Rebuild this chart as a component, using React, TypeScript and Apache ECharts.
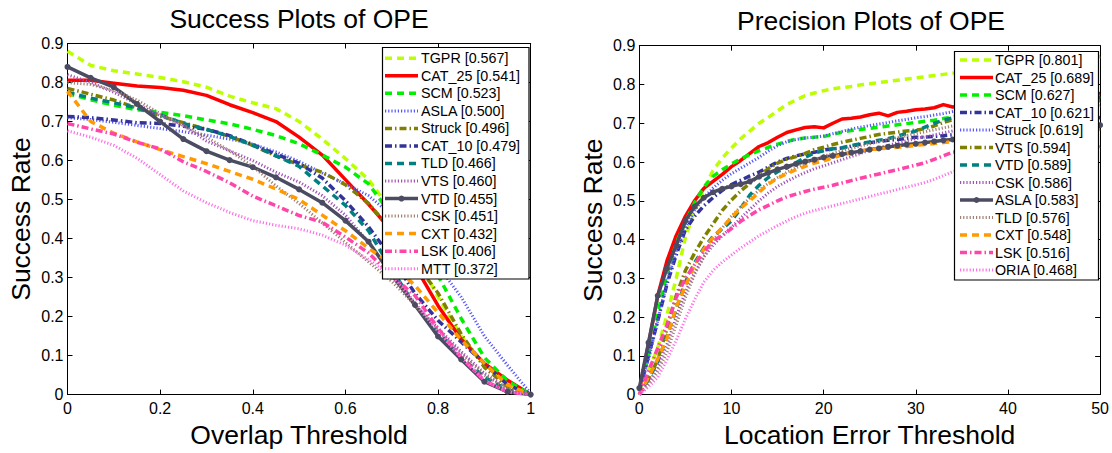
import React, { useEffect, useRef } from 'react';
import * as echarts from 'echarts';

const FONT = '"Liberation Sans", Arial, Helvetica, sans-serif';

// ---------- data ----------
const SUCCESS_X = [0, 0.05, 0.1, 0.15, 0.2, 0.25, 0.3, 0.35, 0.4, 0.45, 0.5, 0.55, 0.6, 0.65, 0.7, 0.75, 0.8, 0.85, 0.9, 0.95, 1];
const PRECISION_X = [0, 1, 2, 3, 4, 5, 6, 7, 8, 9, 10, 11, 12, 13, 14, 15, 16, 17, 18, 19, 20, 21, 22, 23, 24, 25, 26, 27, 28, 29, 30, 31, 32, 33, 34, 35, 36, 37, 38, 39, 40, 41, 42, 43, 44, 45, 46, 47, 48, 49, 50];

const SUCCESS_LABELS = ['TGPR [0.567]', 'CAT_25 [0.541]', 'SCM [0.523]', 'ASLA [0.500]', 'Struck [0.496]', 'CAT_10 [0.479]', 'TLD [0.466]', 'VTS [0.460]', 'VTD [0.455]', 'CSK [0.451]', 'CXT [0.432]', 'LSK [0.406]', 'MTT [0.372]'];
const PRECISION_LABELS = ['TGPR [0.801]', 'CAT_25 [0.689]', 'SCM [0.627]', 'CAT_10 [0.621]', 'Struck [0.619]', 'VTS [0.594]', 'VTD [0.589]', 'CSK [0.586]', 'ASLA [0.583]', 'TLD [0.576]', 'CXT [0.548]', 'LSK [0.516]', 'ORIA [0.468]'];

const S_TGPR = [0.88, 0.844, 0.83, 0.822, 0.813, 0.802, 0.788, 0.765, 0.748, 0.733, 0.7, 0.655, 0.605, 0.551, 0.47, 0.36, 0.25, 0.15, 0.075, 0.03, 0];
const S_CAT25 = [0.806, 0.806, 0.798, 0.791, 0.787, 0.78, 0.767, 0.743, 0.723, 0.7, 0.66, 0.614, 0.551, 0.488, 0.42, 0.33, 0.228, 0.142, 0.08, 0.037, 0];
const S_SCM = [0.772, 0.756, 0.742, 0.73, 0.724, 0.715, 0.704, 0.694, 0.68, 0.664, 0.643, 0.614, 0.583, 0.54, 0.46, 0.385, 0.305, 0.195, 0.095, 0.035, 0];
const S_ASLA = [0.71, 0.705, 0.698, 0.69, 0.682, 0.674, 0.665, 0.655, 0.642, 0.622, 0.598, 0.568, 0.54, 0.51, 0.46, 0.4, 0.33, 0.25, 0.15, 0.075, 0.003];
const S_STRUCK = [0.785, 0.77, 0.755, 0.735, 0.714, 0.697, 0.68, 0.662, 0.639, 0.612, 0.589, 0.57, 0.538, 0.49, 0.42, 0.34, 0.26, 0.155, 0.07, 0.02, 0];
const S_CAT10 = [0.713, 0.71, 0.704, 0.697, 0.695, 0.688, 0.68, 0.664, 0.641, 0.616, 0.593, 0.555, 0.497, 0.43, 0.35, 0.26, 0.19, 0.135, 0.08, 0.025, 0];
const S_TLD = [0.775, 0.76, 0.748, 0.735, 0.718, 0.695, 0.68, 0.662, 0.639, 0.612, 0.585, 0.535, 0.485, 0.42, 0.32, 0.23, 0.16, 0.095, 0.045, 0.012, 0];
const S_VTS = [0.82, 0.8, 0.775, 0.745, 0.715, 0.69, 0.65, 0.625, 0.6, 0.57, 0.545, 0.51, 0.46, 0.39, 0.31, 0.23, 0.17, 0.11, 0.055, 0.015, 0];
const S_VTD = [0.84, 0.812, 0.788, 0.745, 0.7, 0.655, 0.624, 0.601, 0.583, 0.557, 0.526, 0.492, 0.446, 0.392, 0.306, 0.23, 0.149, 0.09, 0.033, 0.007, 0];
const S_CSK = [0.8, 0.795, 0.78, 0.755, 0.72, 0.69, 0.66, 0.625, 0.585, 0.535, 0.49, 0.44, 0.39, 0.34, 0.29, 0.23, 0.165, 0.105, 0.05, 0.015, 0];
const S_CXT = [0.778, 0.7, 0.67, 0.648, 0.628, 0.61, 0.592, 0.572, 0.552, 0.527, 0.5, 0.46, 0.42, 0.375, 0.335, 0.28, 0.21, 0.14, 0.08, 0.025, 0];
const S_LSK = [0.695, 0.681, 0.668, 0.647, 0.63, 0.597, 0.572, 0.543, 0.509, 0.484, 0.459, 0.442, 0.404, 0.363, 0.304, 0.254, 0.17, 0.095, 0.036, 0.007, 0];
const S_MTT = [0.676, 0.66, 0.639, 0.606, 0.564, 0.522, 0.492, 0.467, 0.446, 0.434, 0.425, 0.409, 0.383, 0.346, 0.304, 0.237, 0.162, 0.095, 0.036, 0.007, 0];

const P_TGPR = [0.005, 0.06, 0.12, 0.205, 0.3, 0.405, 0.475, 0.53, 0.578, 0.61, 0.636, 0.66, 0.68, 0.7, 0.715, 0.732, 0.748, 0.76, 0.771, 0.778, 0.784, 0.789, 0.792, 0.795, 0.799, 0.802, 0.805, 0.808, 0.811, 0.814, 0.817, 0.82, 0.823, 0.826, 0.829, 0.832, 0.835, 0.838, 0.841, 0.843, 0.846, 0.848, 0.851, 0.853, 0.856, 0.858, 0.861, 0.863, 0.866, 0.869, 0.872];
const P_CAT25 = [0.01, 0.13, 0.255, 0.345, 0.41, 0.46, 0.5, 0.532, 0.55, 0.568, 0.588, 0.604, 0.622, 0.64, 0.65, 0.664, 0.676, 0.683, 0.689, 0.691, 0.688, 0.7, 0.711, 0.713, 0.716, 0.722, 0.726, 0.719, 0.728, 0.731, 0.735, 0.737, 0.74, 0.748, 0.742, 0.745, 0.747, 0.749, 0.751, 0.753, 0.755, 0.757, 0.76, 0.762, 0.764, 0.766, 0.768, 0.77, 0.772, 0.774, 0.777];
const P_SCM = [0.01, 0.1, 0.21, 0.31, 0.39, 0.445, 0.495, 0.535, 0.563, 0.58, 0.595, 0.608, 0.619, 0.629, 0.638, 0.646, 0.653, 0.659, 0.662, 0.664, 0.666, 0.671, 0.677, 0.681, 0.684, 0.687, 0.69, 0.693, 0.696, 0.699, 0.702, 0.705, 0.708, 0.712, 0.716, 0.72, 0.723, 0.726, 0.729, 0.732, 0.735, 0.738, 0.741, 0.744, 0.747, 0.75, 0.753, 0.757, 0.761, 0.765, 0.77];
const P_CAT10 = [0.01, 0.1, 0.19, 0.285, 0.36, 0.425, 0.46, 0.487, 0.508, 0.527, 0.542, 0.553, 0.564, 0.574, 0.587, 0.6, 0.609, 0.616, 0.621, 0.625, 0.631, 0.634, 0.636, 0.641, 0.646, 0.65, 0.653, 0.656, 0.658, 0.661, 0.664, 0.664, 0.666, 0.668, 0.67, 0.672, 0.674, 0.676, 0.678, 0.68, 0.682, 0.684, 0.686, 0.689, 0.692, 0.695, 0.698, 0.702, 0.706, 0.71, 0.715];
const P_STRUCK = [0.01, 0.09, 0.19, 0.29, 0.37, 0.43, 0.475, 0.508, 0.533, 0.553, 0.57, 0.584, 0.598, 0.612, 0.628, 0.642, 0.652, 0.658, 0.662, 0.664, 0.667, 0.673, 0.679, 0.685, 0.69, 0.694, 0.698, 0.702, 0.706, 0.71, 0.714, 0.717, 0.721, 0.725, 0.73, 0.733, 0.736, 0.739, 0.741, 0.743, 0.745, 0.747, 0.749, 0.751, 0.752, 0.753, 0.754, 0.755, 0.756, 0.757, 0.758];
const P_VTS = [0, 0.04, 0.09, 0.17, 0.255, 0.32, 0.365, 0.405, 0.44, 0.475, 0.502, 0.525, 0.545, 0.565, 0.583, 0.597, 0.607, 0.614, 0.622, 0.632, 0.638, 0.645, 0.651, 0.656, 0.661, 0.666, 0.671, 0.674, 0.677, 0.68, 0.682, 0.686, 0.693, 0.702, 0.709, 0.715, 0.72, 0.725, 0.73, 0.735, 0.74, 0.744, 0.748, 0.752, 0.756, 0.76, 0.765, 0.77, 0.775, 0.78, 0.786];
const P_VTD = [0, 0.04, 0.085, 0.15, 0.22, 0.29, 0.34, 0.378, 0.408, 0.428, 0.448, 0.48, 0.515, 0.54, 0.56, 0.575, 0.585, 0.598, 0.612, 0.623, 0.629, 0.634, 0.637, 0.642, 0.647, 0.652, 0.656, 0.66, 0.667, 0.673, 0.68, 0.69, 0.7, 0.708, 0.714, 0.718, 0.722, 0.726, 0.73, 0.733, 0.736, 0.739, 0.742, 0.745, 0.748, 0.751, 0.754, 0.757, 0.76, 0.763, 0.766];
const P_CSK = [0, 0.03, 0.07, 0.13, 0.2, 0.265, 0.315, 0.355, 0.385, 0.41, 0.432, 0.455, 0.478, 0.5, 0.52, 0.537, 0.55, 0.562, 0.573, 0.583, 0.59, 0.598, 0.606, 0.614, 0.622, 0.63, 0.637, 0.643, 0.649, 0.655, 0.66, 0.665, 0.67, 0.675, 0.68, 0.684, 0.688, 0.692, 0.696, 0.7, 0.704, 0.708, 0.712, 0.716, 0.72, 0.724, 0.728, 0.732, 0.736, 0.74, 0.745];
const P_ASLA = [0.017, 0.134, 0.255, 0.326, 0.385, 0.448, 0.485, 0.508, 0.522, 0.531, 0.537, 0.543, 0.55, 0.562, 0.572, 0.581, 0.588, 0.595, 0.601, 0.606, 0.612, 0.616, 0.62, 0.624, 0.628, 0.632, 0.635, 0.639, 0.642, 0.645, 0.647, 0.65, 0.653, 0.656, 0.658, 0.661, 0.663, 0.665, 0.667, 0.669, 0.671, 0.673, 0.675, 0.677, 0.679, 0.681, 0.683, 0.685, 0.688, 0.691, 0.695];
const P_TLD = [0, 0.025, 0.06, 0.11, 0.18, 0.25, 0.31, 0.355, 0.395, 0.43, 0.46, 0.485, 0.507, 0.527, 0.545, 0.56, 0.573, 0.585, 0.596, 0.606, 0.615, 0.622, 0.629, 0.635, 0.641, 0.647, 0.653, 0.658, 0.663, 0.668, 0.673, 0.678, 0.683, 0.688, 0.693, 0.697, 0.701, 0.705, 0.709, 0.713, 0.717, 0.721, 0.725, 0.729, 0.733, 0.737, 0.741, 0.745, 0.749, 0.753, 0.757];
const P_CXT = [0, 0.045, 0.092, 0.145, 0.225, 0.28, 0.335, 0.375, 0.405, 0.431, 0.457, 0.481, 0.5, 0.522, 0.543, 0.558, 0.57, 0.58, 0.589, 0.597, 0.603, 0.611, 0.618, 0.624, 0.629, 0.632, 0.634, 0.636, 0.638, 0.64, 0.643, 0.645, 0.648, 0.65, 0.653, 0.655, 0.657, 0.659, 0.661, 0.663, 0.665, 0.667, 0.669, 0.671, 0.673, 0.675, 0.677, 0.679, 0.681, 0.683, 0.685];
const P_LSK = [0, 0.06, 0.12, 0.18, 0.25, 0.3, 0.335, 0.368, 0.397, 0.41, 0.428, 0.447, 0.462, 0.477, 0.488, 0.5, 0.51, 0.517, 0.524, 0.53, 0.535, 0.54, 0.546, 0.552, 0.558, 0.564, 0.569, 0.575, 0.58, 0.586, 0.592, 0.598, 0.607, 0.616, 0.625, 0.628, 0.631, 0.634, 0.637, 0.64, 0.643, 0.646, 0.649, 0.652, 0.655, 0.658, 0.661, 0.664, 0.667, 0.67, 0.673];
const P_ORIA = [0, 0.02, 0.045, 0.09, 0.14, 0.195, 0.245, 0.29, 0.32, 0.342, 0.36, 0.378, 0.394, 0.41, 0.423, 0.436, 0.448, 0.459, 0.468, 0.475, 0.481, 0.487, 0.493, 0.499, 0.505, 0.511, 0.517, 0.523, 0.529, 0.535, 0.541, 0.547, 0.555, 0.565, 0.575, 0.58, 0.584, 0.588, 0.592, 0.596, 0.6, 0.604, 0.608, 0.612, 0.616, 0.62, 0.624, 0.628, 0.632, 0.636, 0.64];

const SUCCESS_VALUES = [S_TGPR, S_CAT25, S_SCM, S_ASLA, S_STRUCK, S_CAT10, S_TLD, S_VTS, S_VTD, S_CSK, S_CXT, S_LSK, S_MTT];
const PRECISION_VALUES = [P_TGPR, P_CAT25, P_SCM, P_CAT10, P_STRUCK, P_VTS, P_VTD, P_CSK, P_ASLA, P_TLD, P_CXT, P_LSK, P_ORIA];

// ---------- styles ----------
type Sty = { color: string; dash: number[] | 'solid'; width: number; marker?: boolean };
const DASH = [7, 5];
const DOT = [1.2, 2];
const DASHDOT = [7, 3, 1.5, 3];
const ST_YELLOW: Sty = { color: '#bbff00', dash: DASH, width: 3.5 };
const ST_RED: Sty = { color: '#ff0000', dash: 'solid', width: 3.5 };
const ST_GREEN: Sty = { color: '#00f000', dash: DASH, width: 3.5 };
const ST_BLUEDOT: Sty = { color: '#5555ff', dash: DOT, width: 3 };
const ST_OLIVE: Sty = { color: '#808000', dash: DASHDOT, width: 3.5 };
const ST_NAVY: Sty = { color: '#333399', dash: DASHDOT, width: 3.5 };
const ST_TEAL: Sty = { color: '#008080', dash: DASH, width: 3.5 };
const ST_PURPLE: Sty = { color: '#a050b8', dash: DOT, width: 3 };
const ST_GRAY: Sty = { color: '#4b4b62', dash: 'solid', width: 3.5, marker: true };
const ST_TAN: Sty = { color: '#a08070', dash: DOT, width: 3 };
const ST_ORANGE: Sty = { color: '#ff9a00', dash: DASH, width: 3.5 };
const ST_PINK: Sty = { color: '#ff44aa', dash: DASHDOT, width: 3.5 };
const ST_LPINK: Sty = { color: '#ff70e8', dash: DOT, width: 3 };

const SUCCESS_STYLES = [ST_YELLOW, ST_RED, ST_GREEN, ST_BLUEDOT, ST_OLIVE, ST_NAVY, ST_TEAL, ST_PURPLE, ST_GRAY, ST_TAN, ST_ORANGE, ST_PINK, ST_LPINK];
const PRECISION_STYLES = [ST_YELLOW, ST_RED, ST_GREEN, ST_NAVY, ST_BLUEDOT, ST_OLIVE, ST_TEAL, ST_PURPLE, ST_GRAY, ST_TAN, ST_ORANGE, ST_PINK, ST_LPINK];

function buildSeries(labels: string[], values: number[][], xs: number[], styles: Sty[], axisBase: number) {
  return labels.map((name, i) => {
    const s = styles[i];
    return {
      type: 'line',
      name,
      xAxisIndex: axisBase,
      yAxisIndex: axisBase,
      data: xs.map((x, j) => [x, values[i][j]]),
      symbol: s.marker ? 'circle' : 'none',
      symbolSize: 6,
      showSymbol: !!s.marker,
      showAllSymbol: true,
      itemStyle: { color: s.color },
      lineStyle: { color: s.color, width: s.width, type: s.dash, cap: 'butt', join: 'round' },
      silent: true,
      animation: false,
      clip: true,
      emphasis: { disabled: true },
    };
  });
}

type Box = { x: number; y: number; w: number; h: number; lineX: number; lineW: number; textX: number; rowY: number; pitch: number };

function buildLegend(labels: string[], styles: Sty[], b: Box) {
  const els: any[] = [
    {
      type: 'rect',
      z: 100,
      shape: { x: b.x, y: b.y, width: b.w, height: b.h },
      style: { fill: '#ffffff', stroke: '#000000', lineWidth: 1.2 },
      silent: true,
    },
  ];
  labels.forEach((label, i) => {
    const s = styles[i];
    const cy = b.rowY + i * b.pitch;
    els.push({
      type: 'line',
      z: 101,
      shape: { x1: b.lineX, y1: cy, x2: b.lineX + b.lineW, y2: cy },
      style: { stroke: s.color, lineWidth: s.width, lineDash: s.dash === 'solid' ? null : s.dash, lineCap: 'butt' },
      silent: true,
    });
    if (s.marker) {
      els.push({
        type: 'circle',
        z: 102,
        shape: { cx: b.lineX + b.lineW / 2, cy, r: 3 },
        style: { fill: s.color },
        silent: true,
      });
    }
    els.push({
      type: 'text',
      z: 102,
      x: b.textX,
      y: cy,
      style: { text: label, fontSize: 14.3, fontFamily: FONT, fill: '#000000', verticalAlign: 'middle', align: 'left' },
      silent: true,
    });
  });
  return els;
}

function axisPair(gridIndex: number, min: number, max: number, interval: number, isX: boolean, name: string, nameGap: number, labelMargin: number) {
  const common = {
    gridIndex,
    type: 'value',
    min,
    max,
    interval,
    splitLine: { show: false },
    axisLine: { show: true, onZero: false, lineStyle: { color: '#000000', width: 1 } },
    axisTick: { show: true, inside: true, length: 5, lineStyle: { color: '#000000', width: 1 } },
  };
  return [
    {
      ...common,
      position: isX ? 'bottom' : 'left',
      name,
      nameLocation: 'middle',
      nameGap,
      nameTextStyle: { fontSize: 26.5, fontFamily: FONT, color: '#000000' },
      axisLabel: { show: true, fontSize: 16, fontFamily: FONT, color: '#000000', margin: labelMargin },
    },
    {
      ...common,
      position: isX ? 'top' : 'right',
      axisLabel: { show: false },
    },
  ];
}

export default function App() {
  const ref = useRef<HTMLDivElement>(null);
  useEffect(() => {
    if (!ref.current) return;
    const chart = echarts.init(ref.current, null, { renderer: 'svg' });
    const option: any = {
      animation: false,
      backgroundColor: '#ffffff',
      grid: [
        { left: 67.5, top: 43.5, width: 463.2, height: 357.8 },
        { left: 639.3, top: 45.7, width: 463.4, height: 357.6 },
      ],
      xAxis: [
        ...axisPair(0, 0, 1, 0.2, true, 'Overlap Threshold', 21.5, 5.5),
        ...axisPair(1, 0, 50, 10, true, 'Location Error Threshold', 20.5, 5.5),
      ],
      yAxis: [
        ...axisPair(0, 0, 0.9, 0.1, false, 'Success Rate', 33, 4),
        ...axisPair(1, 0, 0.9, 0.1, false, 'Success Rate', 33, 4),
      ],
      series: [
        ...buildSeries(SUCCESS_LABELS, SUCCESS_VALUES, SUCCESS_X, SUCCESS_STYLES, 0),
        ...buildSeries(PRECISION_LABELS, PRECISION_VALUES, PRECISION_X, PRECISION_STYLES, 2),
      ],
      graphic: [
        {
          type: 'text',
          x: 299,
          y: 19,
          style: { text: 'Success Plots of OPE', fontSize: 26.5, fontFamily: FONT, fill: '#000000', align: 'center', verticalAlign: 'middle' },
          silent: true,
        },
        {
          type: 'text',
          x: 871,
          y: 20.5,
          style: { text: 'Precision Plots of OPE', fontSize: 26.5, fontFamily: FONT, fill: '#000000', align: 'center', verticalAlign: 'middle' },
          silent: true,
        },
        ...buildLegend(SUCCESS_LABELS, SUCCESS_STYLES, { x: 382.5, y: 47.5, w: 146.5, h: 231.5, lineX: 385, lineW: 33, textX: 421, rowY: 58.3, pitch: 17.53 }),
        ...buildLegend(PRECISION_LABELS, PRECISION_STYLES, { x: 954.5, y: 51.5, w: 144, h: 228.5, lineX: 960, lineW: 33, textX: 995, rowY: 60, pitch: 17.5 }),
      ],
    };
    chart.setOption(option);
    return () => {
      chart.dispose();
    };
  }, []);
  return <div ref={ref} style={{ position: 'absolute', left: 0, top: 0, width: 1112, height: 453, background: '#ffffff' }} />;
}
